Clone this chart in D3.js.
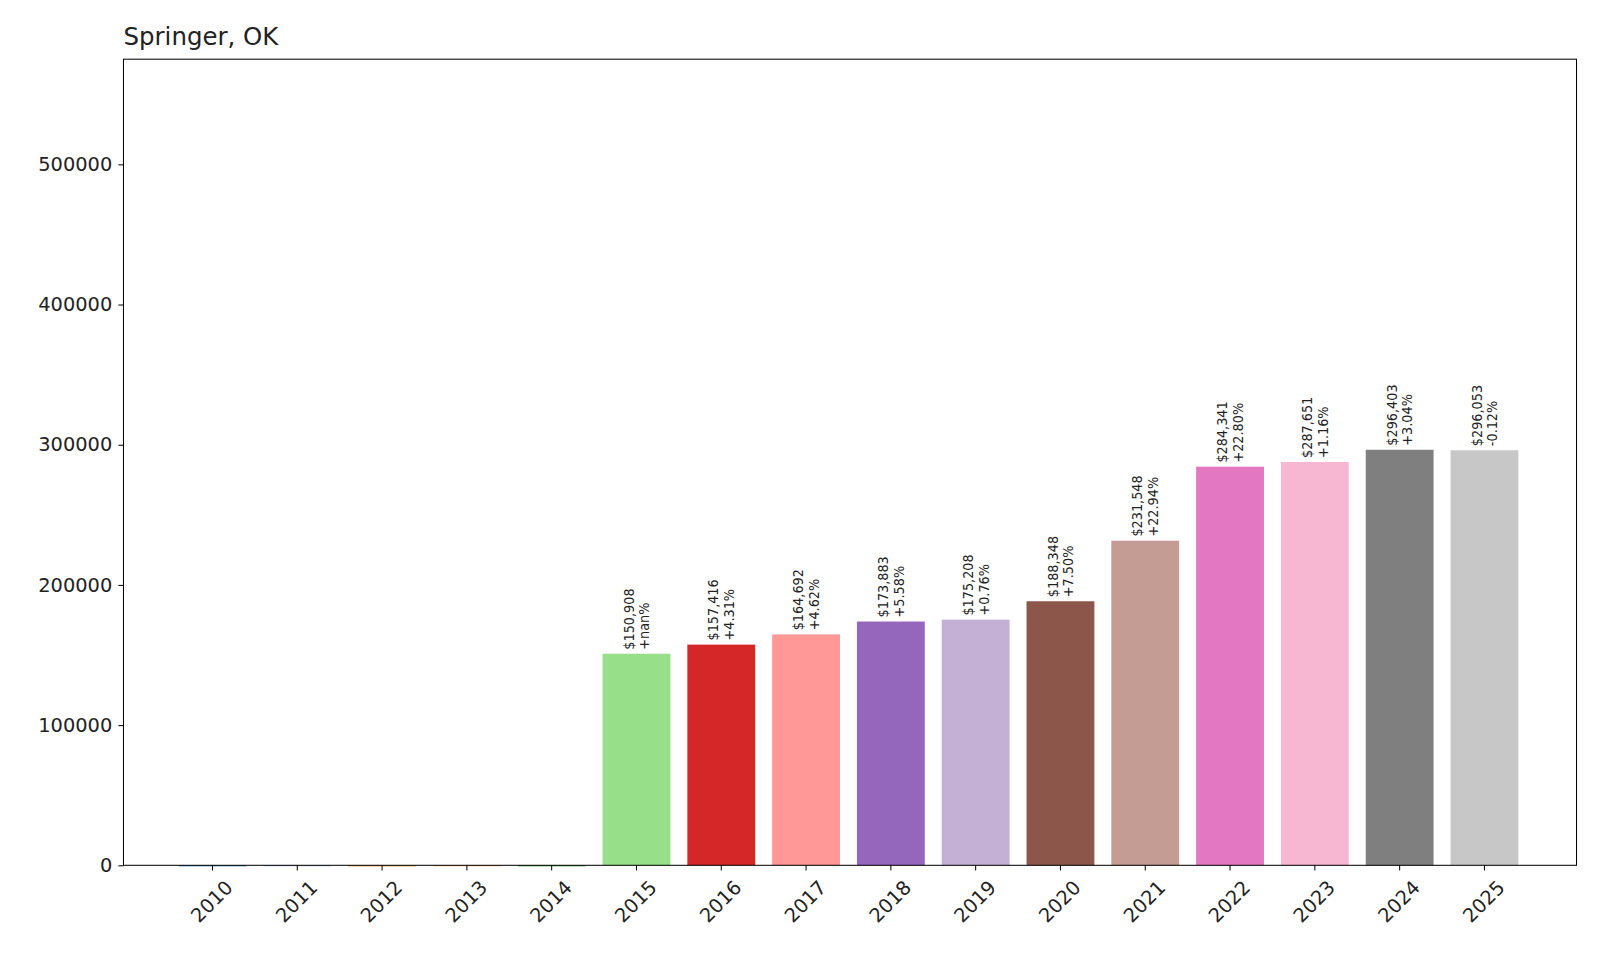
<!DOCTYPE html>
<html><head><meta charset="utf-8">
<script src="https://cdn.jsdelivr.net/npm/d3@7"></script>
<style>body{margin:0;background:#fff;font-family:"DejaVu Sans",sans-serif}</style>
</head><body><svg id="c" width="1600" height="960"></svg>
<script>
const years = ["2010","2011","2012","2013","2014","2015","2016","2017","2018","2019","2020","2021","2022","2023","2024","2025"];
const values = [0,0,0,0,0,150908,157416,164692,173883,175208,188348,231548,284341,287651,296403,296053];
const changes = [null,null,null,null,null,"+nan%","+4.31%","+4.62%","+5.58%","+0.76%","+7.50%","+22.94%","+22.80%","+1.16%","+3.04%","-0.12%"];
const colors = ["#1f77b4","#aec7e8","#ff7f0e","#ffbb78","#2ca02c","#98df8a","#d62728","#ff9896","#9467bd","#c5b0d5","#8c564b","#c49c94","#e377c2","#f7b6d2","#7f7f7f","#c7c7c7"];
const yTicks = [0,100000,200000,300000,400000,500000];

const svg = d3.select("#c").append("g").attr("transform","scale(1.0204)");
const L=121,R=1545,T=58,B=848;
const x = d3.scaleBand().domain(years).range([175,1488]).paddingInner(0.2).paddingOuter(0);
const y = d3.scaleLinear().domain([0,575000]).range([B,T]);

svg.selectAll("rect.bar").data(years).enter().append("rect")
 .attr("x",d=>x(d)).attr("width",x.bandwidth())
 .attr("y",(d,i)=>y(values[i])).attr("height",(d,i)=>Math.max(1,B-y(values[i])))
 .attr("fill",(d,i)=>colors[i]);

years.forEach((yr,i)=>{
 if(!values[i]) return;
 const cx = x(yr)+x.bandwidth()/2, ty = y(values[i])-4;
 const t = svg.append("text").attr("transform",`translate(${cx},${ty}) rotate(-90)`)
  .attr("font-size",14).attr("font-family","'DejaVu Sans Condensed','DejaVu Sans'").attr("fill","#222");
 t.append("tspan").attr("x",0).attr("dy","-0.2em").text("$"+d3.format(",")(values[i]));
 t.append("tspan").attr("x",0).attr("dy","1.1em").text(changes[i]);
});

const ya = svg.append("g").attr("transform",`translate(${L},0)`)
 .call(d3.axisLeft(y).tickValues(yTicks).tickFormat(d3.format("d")).tickSize(5).tickPadding(6));
ya.select(".domain").remove();
ya.selectAll("text").attr("font-size",19).attr("fill","#222").attr("font-family","DejaVu Sans");
const xa = svg.append("g").attr("transform",`translate(0,${B})`)
 .call(d3.axisBottom(x).tickSize(5));
xa.select(".domain").remove();
xa.selectAll("text").attr("font-size",19).attr("fill","#222").attr("font-family","DejaVu Sans")
 .attr("text-anchor","end").attr("transform","translate(6,8) rotate(-45)").attr("dy","0.7em");
svg.append("rect").attr("x",L).attr("y",T).attr("width",R-L).attr("height",B-T)
 .attr("fill","none").attr("stroke","#000").attr("stroke-width",1);
svg.append("text").attr("x",L).attr("y",T-14).attr("font-size",24).attr("fill","#222").text("Springer, OK");
</script></body></html>
